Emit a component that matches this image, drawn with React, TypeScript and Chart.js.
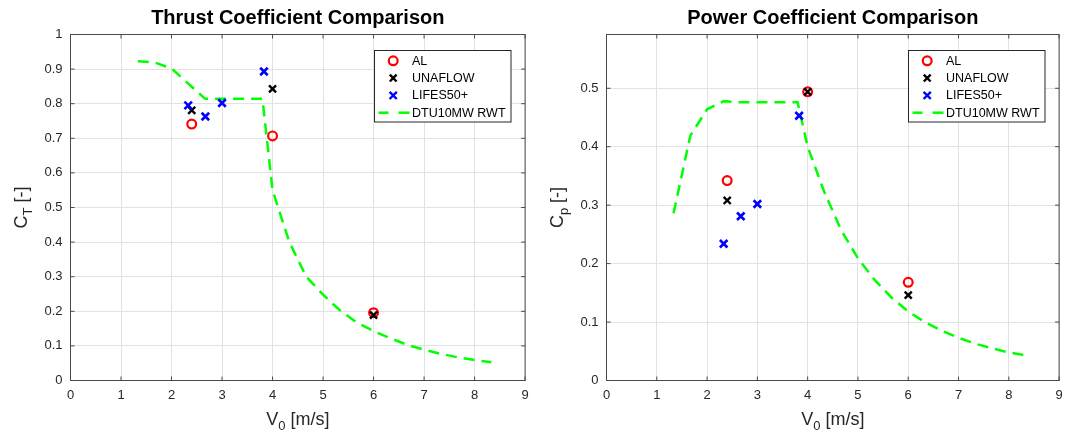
import React, { useEffect, useRef } from 'react';
import { Chart, registerables } from 'chart.js';

Chart.register(...registerables);

const FONT = '"Liberation Sans", Arial, Helvetica, sans-serif';
const AXIS_COLOR = '#4a4a4a';
const GRID_COLOR = '#e2e2e2';
const TEXT_COLOR = '#262626';

// ---------- data ----------
const alSpeed = [2.4, 4.0, 6.0];
const alCt = [0.741, 0.707, 0.196];
const alCp = [0.342, 0.494, 0.168];

const unaflowSpeed = [2.4, 4.0, 6.0];
const unaflowCt = [0.781, 0.843, 0.189];
const unaflowCp = [0.308, 0.494, 0.146];

const lifesSpeed = [2.33, 2.67, 3.0, 3.83];
const lifesCt = [0.795, 0.763, 0.802, 0.893];
const lifesCp = [0.234, 0.281, 0.302, 0.453];

const dtuSpeed = [
  1.333, 1.667, 2.0, 2.333, 2.667, 3.0, 3.333, 3.667, 3.8, 4.0, 4.333, 4.667,
  5.0, 5.333, 5.667, 6.0, 6.333, 6.667, 7.0, 7.333, 7.667, 8.0, 8.333,
];
const dtuCt = [
  0.923, 0.919, 0.902, 0.858, 0.814, 0.814, 0.814, 0.814, 0.814, 0.55, 0.4, 0.3,
  0.248, 0.203, 0.168, 0.143, 0.122, 0.103, 0.089, 0.077, 0.067, 0.059, 0.053,
];
const dtuCp = [
  0.286, 0.419, 0.464, 0.478, 0.476, 0.476, 0.476, 0.476, 0.476, 0.4, 0.322, 0.257,
  0.209, 0.172, 0.142, 0.118, 0.1, 0.085, 0.073, 0.063, 0.055, 0.048, 0.043,
];

const speedTicks = [0, 1, 2, 3, 4, 5, 6, 7, 8, 9];
const ctTicks = [0, 0.1, 0.2, 0.3, 0.4, 0.5, 0.6, 0.7, 0.8, 0.9, 1];
const cpTicks = [0, 0.1, 0.2, 0.3, 0.4, 0.5];

const seriesNames = ['AL', 'UNAFLOW', 'LIFES50+', 'DTU10MW RWT'];

type PanelCfg = {
  title: string;
  ySub: string;
  yMax: number;
  yTicks: number[];
  al: number[];
  unaflow: number[];
  lifes: number[];
  dtu: number[];
  width: number;
  yAxisWidth: number;
  padRight: number;
};

const pts = (xs: number[], ys: number[]) => xs.map((x, i) => ({ x, y: ys[i] }));

function drawRich(
  ctx: CanvasRenderingContext2D,
  parts: { text: string; font: string; dy: number }[],
  x: number,
  y: number
) {
  let total = 0;
  const widths = parts.map((p) => {
    ctx.font = p.font;
    const w = ctx.measureText(p.text).width;
    total += w;
    return w;
  });
  let cx = x - total / 2;
  ctx.textAlign = 'left';
  ctx.textBaseline = 'alphabetic';
  parts.forEach((p, i) => {
    ctx.font = p.font;
    ctx.fillText(p.text, cx, y + p.dy);
    cx += widths[i];
  });
}

function line(ctx: CanvasRenderingContext2D, x1: number, y1: number, x2: number, y2: number) {
  ctx.beginPath();
  ctx.moveTo(x1, y1);
  ctx.lineTo(x2, y2);
  ctx.stroke();
}

function drawCross(ctx: CanvasRenderingContext2D, x: number, y: number, r: number) {
  line(ctx, x - r, y - r, x + r, y + r);
  line(ctx, x - r, y + r, x + r, y - r);
}

function makePlugin(cfg: PanelCfg) {
  return {
    id: 'decor',
    afterDraw(chart: any) {
      const ctx: CanvasRenderingContext2D = chart.ctx;
      const ca = chart.chartArea;
      const xs = chart.scales.x;
      const ys = chart.scales.y;
      ctx.save();

      // axes box
      ctx.strokeStyle = AXIS_COLOR;
      ctx.lineWidth = 1;
      ctx.setLineDash([]);
      ctx.strokeRect(ca.left, ca.top, ca.right - ca.left, ca.bottom - ca.top);

      // inward tick marks on all four sides
      for (const v of speedTicks) {
        const px = xs.getPixelForValue(v);
        line(ctx, px, ca.bottom, px, ca.bottom - 4);
        line(ctx, px, ca.top, px, ca.top + 4);
      }
      for (const v of cfg.yTicks) {
        const py = ys.getPixelForValue(v);
        line(ctx, ca.left, py, ca.left + 4, py);
        line(ctx, ca.right, py, ca.right - 4, py);
      }

      const cx = (ca.left + ca.right) / 2;
      const cy = (ca.top + ca.bottom) / 2;

      // title
      ctx.fillStyle = '#000';
      ctx.font = `bold 20px ${FONT}`;
      ctx.textAlign = 'center';
      ctx.textBaseline = 'middle';
      ctx.fillText(cfg.title, cx, 18);

      // x-axis title
      ctx.fillStyle = TEXT_COLOR;
      drawRich(
        ctx,
        [
          { text: 'V', font: `18px ${FONT}`, dy: 0 },
          { text: '0', font: `13px ${FONT}`, dy: 5 },
          { text: ' [m/s]', font: `18px ${FONT}`, dy: 0 },
        ],
        cx,
        425
      );

      // y-axis title (rotated)
      ctx.save();
      ctx.translate(ca.left - 44, cy);
      ctx.rotate(-Math.PI / 2);
      drawRich(
        ctx,
        [
          { text: 'C', font: `18px ${FONT}`, dy: 0 },
          { text: cfg.ySub, font: `13px ${FONT}`, dy: 5 },
          { text: ' [-]', font: `18px ${FONT}`, dy: 0 },
        ],
        0,
        0
      );
      ctx.restore();

      // legend
      const lw = 136.5;
      const lh = 71.5;
      const lx = Math.round(ca.right - 15 - lw) + 0.5;
      const ly = Math.round(ca.top + 15) + 0.5;
      ctx.fillStyle = '#fff';
      ctx.fillRect(lx, ly, lw, lh);
      ctx.strokeStyle = '#262626';
      ctx.lineWidth = 1;
      ctx.strokeRect(lx, ly, lw, lh);
      const rowY = (i: number) => ly + 10.3 + 17.3 * i;
      const mx = lx + 18.7;
      // AL
      ctx.strokeStyle = '#ff0000';
      ctx.lineWidth = 2.2;
      ctx.beginPath();
      ctx.arc(mx, rowY(0), 4.4, 0, Math.PI * 2);
      ctx.stroke();
      // UNAFLOW
      ctx.strokeStyle = '#000';
      ctx.lineWidth = 2.4;
      drawCross(ctx, mx, rowY(1), 3.4);
      // LIFES50+
      ctx.strokeStyle = '#0000ff';
      drawCross(ctx, mx, rowY(2), 3.6);
      // DTU
      ctx.strokeStyle = '#00ff00';
      ctx.lineWidth = 2.5;
      line(ctx, lx + 4, rowY(3), lx + 14, rowY(3));
      line(ctx, lx + 24, rowY(3), lx + 35, rowY(3));

      ctx.fillStyle = '#000';
      ctx.font = `12.5px ${FONT}`;
      ctx.textAlign = 'left';
      ctx.textBaseline = 'middle';
      seriesNames.forEach((n, i) => ctx.fillText(n, lx + 37.5, rowY(i) + 0.5));

      ctx.restore();
    },
  };
}

function buildConfig(cfg: PanelCfg): any {
  const tickLabel = (v: any) => String(Math.round(Number(v) * 10) / 10);
  return {
    type: 'scatter',
    data: {
      datasets: [
        {
          label: seriesNames[0],
          data: pts(alSpeed, cfg.al),
          pointStyle: 'circle',
          pointRadius: 4.4,
          borderColor: '#ff0000',
          backgroundColor: 'rgba(0,0,0,0)',
          pointBorderWidth: 2.2,
          borderWidth: 2.2,
          order: 3,
        },
        {
          label: seriesNames[1],
          data: pts(unaflowSpeed, cfg.unaflow),
          pointStyle: 'crossRot',
          pointRadius: 5,
          borderColor: '#000000',
          backgroundColor: '#000000',
          pointBorderWidth: 2.4,
          borderWidth: 2.4,
          order: 2,
        },
        {
          label: seriesNames[2],
          data: pts(lifesSpeed, cfg.lifes),
          pointStyle: 'crossRot',
          pointRadius: 5.3,
          borderColor: '#0000ff',
          backgroundColor: '#0000ff',
          pointBorderWidth: 2.6,
          borderWidth: 2.6,
          order: 1,
        },
        {
          label: seriesNames[3],
          data: pts(dtuSpeed, cfg.dtu),
          showLine: true,
          pointRadius: 0,
          borderColor: '#00ff00',
          backgroundColor: '#00ff00',
          borderWidth: 2.5,
          borderDash: [11, 7],
          tension: 0,
          fill: false,
          order: 4,
        },
      ],
    },
    options: {
      responsive: false,
      maintainAspectRatio: false,
      animation: false,
      events: [],
      layout: { padding: { top: 34.5, right: cfg.padRight, bottom: 0, left: 0 } },
      plugins: {
        legend: { display: false },
        tooltip: { enabled: false },
        title: { display: false },
      },
      scales: {
        x: {
          type: 'linear',
          min: 0,
          max: 9,
          afterBuildTicks: (s: any) => {
            s.ticks = speedTicks.map((v) => ({ value: v }));
          },
          afterFit: (s: any) => {
            s.height = 58.5;
            s.paddingLeft = 0;
            s.paddingRight = 0;
            s.paddingTop = 0;
            s.paddingBottom = 0;
          },
          ticks: {
            padding: 7,
            color: TEXT_COLOR,
            font: { family: FONT, size: 13 },
            callback: tickLabel,
            maxRotation: 0,
            autoSkip: false,
          },
          grid: { color: GRID_COLOR, lineWidth: 1, drawTicks: false },
          border: { display: false },
        },
        y: {
          type: 'linear',
          min: 0,
          max: cfg.yMax,
          afterBuildTicks: (s: any) => {
            s.ticks = cfg.yTicks.map((v) => ({ value: v }));
          },
          afterFit: (s: any) => {
            s.width = cfg.yAxisWidth;
            s.paddingLeft = 0;
            s.paddingRight = 0;
            s.paddingTop = 0;
            s.paddingBottom = 0;
          },
          ticks: {
            padding: 8,
            color: TEXT_COLOR,
            font: { family: FONT, size: 13 },
            callback: tickLabel,
            autoSkip: false,
          },
          grid: { color: GRID_COLOR, lineWidth: 1, drawTicks: false },
          border: { display: false },
        },
      },
    },
    plugins: [makePlugin(cfg)],
  };
}

function Panel({ cfg }: { cfg: PanelCfg }) {
  const ref = useRef<HTMLCanvasElement>(null);
  useEffect(() => {
    const chart = new Chart(ref.current as HTMLCanvasElement, buildConfig(cfg));
    return () => chart.destroy();
  }, [cfg]);
  return (
    <canvas
      ref={ref}
      width={cfg.width}
      height={439}
      style={{ display: 'block', width: cfg.width, height: 439 }}
    />
  );
}

const thrustCfg: PanelCfg = {
  title: 'Thrust Coefficient Comparison',
  ySub: 'T',
  yMax: 1,
  yTicks: ctTicks,
  al: alCt,
  unaflow: unaflowCt,
  lifes: lifesCt,
  dtu: dtuCt,
  width: 533,
  yAxisWidth: 70.5,
  padRight: 7.5,
};

const powerCfg: PanelCfg = {
  title: 'Power Coefficient Comparison',
  ySub: 'p',
  yMax: 0.592,
  yTicks: cpTicks,
  al: alCp,
  unaflow: unaflowCp,
  lifes: lifesCp,
  dtu: dtuCp,
  width: 534,
  yAxisWidth: 73.5,
  padRight: 5.5,
};

export default function App() {
  return (
    <div
      style={{
        position: 'absolute',
        left: 0,
        top: 0,
        width: 1067,
        height: 439,
        background: '#fff',
        overflow: 'hidden',
      }}
    >
      <div style={{ position: 'absolute', left: 0, top: 0 }}>
        <Panel cfg={thrustCfg} />
      </div>
      <div style={{ position: 'absolute', left: 533, top: 0 }}>
        <Panel cfg={powerCfg} />
      </div>
    </div>
  );
}
